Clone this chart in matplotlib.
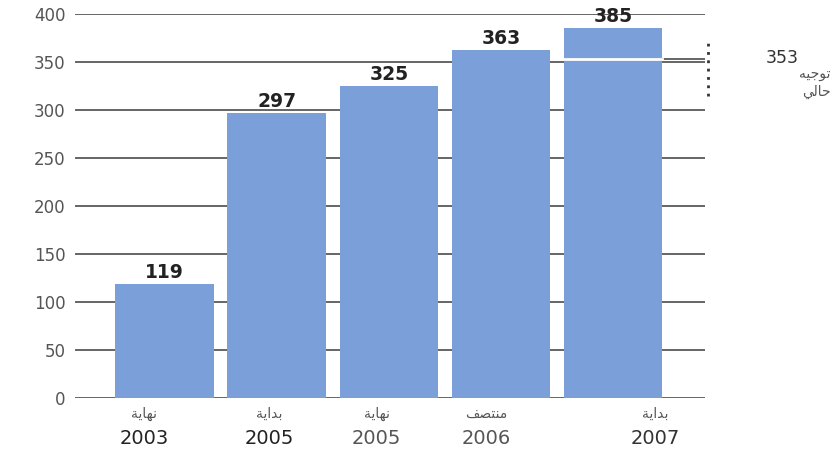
import matplotlib
matplotlib.use("Agg")
from matplotlib import pyplot as plt

# data
periods = ["نهاية", "بداية", "نهاية", "منتصف", "بداية"]
years = ["2003", "2005", "2005", "2006", "2007"]
values = [119, 297, 325, 363, 385]
current_value = 353
current_label = ["توجيه", "حالي"]
y_ticks = [0, 50, 100, 150, 200, 250, 300, 350, 400]

BAR_COLOR = "#7b9fd8"
GRID_COLOR = "#3c3c3c"

# arabic presentation forms: isolated, final, initial, medial
FORMS = {
    "ا": ("\uFE8D", "\uFE8E", None, None),
    "ب": ("\uFE8F", "\uFE90", "\uFE91", "\uFE92"),
    "ة": ("\uFE93", "\uFE94", None, None),
    "ت": ("\uFE95", "\uFE96", "\uFE97", "\uFE98"),
    "ج": ("\uFE9D", "\uFE9E", "\uFE9F", "\uFEA0"),
    "ح": ("\uFEA1", "\uFEA2", "\uFEA3", "\uFEA4"),
    "د": ("\uFEA9", "\uFEAA", None, None),
    "ر": ("\uFEAD", "\uFEAE", None, None),
    "ص": ("\uFEB9", "\uFEBA", "\uFEBB", "\uFEBC"),
    "ف": ("\uFED1", "\uFED2", "\uFED3", "\uFED4"),
    "ق": ("\uFED5", "\uFED6", "\uFED7", "\uFED8"),
    "ل": ("\uFEDD", "\uFEDE", "\uFEDF", "\uFEE0"),
    "م": ("\uFEE1", "\uFEE2", "\uFEE3", "\uFEE4"),
    "ن": ("\uFEE5", "\uFEE6", "\uFEE7", "\uFEE8"),
    "ه": ("\uFEE9", "\uFEEA", "\uFEEB", "\uFEEC"),
    "و": ("\uFEED", "\uFEEE", None, None),
    "ي": ("\uFEF1", "\uFEF2", "\uFEF3", "\uFEF4"),
}


def shape(word):
    """Very small arabic shaper, matplotlib has no bidi/joining support."""
    out = []
    for i, ch in enumerate(word):
        if ch not in FORMS:
            out.append(ch)
            continue
        prev = word[i - 1] if i > 0 else None
        nxt = word[i + 1] if i + 1 < len(word) else None
        join_prev = prev in FORMS and FORMS[prev][2] is not None
        join_next = nxt in FORMS and FORMS[ch][2] is not None
        iso, fin, ini, med = FORMS[ch]
        if join_prev and join_next:
            out.append(med)
        elif join_prev:
            out.append(fin)
        elif join_next:
            out.append(ini)
        else:
            out.append(iso)
    return "".join(out[::-1])


fig = plt.figure(figsize=(8.34, 4.5), dpi=100)
ax = fig.add_axes([0.0899, 0.1156, 0.7554, 0.8533])

x = list(range(len(values)))
ax.set_xlim(-0.80, 4.82)
ax.set_ylim(0, 400)

for t in y_ticks:
    ax.axhline(t, color=GRID_COLOR, lw=1.1, zorder=1)

ax.bar(x, values, width=0.88, color=BAR_COLOR, zorder=2)

for xi, v in zip(x, values):
    ax.text(xi, v + 2, str(v), ha="center", va="bottom", fontsize=13.5,
            fontweight="bold", color="#222222", zorder=3)

# current level marker on the last bar
last = x[-1]
ax.plot([last - 0.44, last + 0.44], [current_value, current_value],
        color="white", lw=2.0, zorder=3)
ax.plot([last + 0.44, 4.82], [current_value, current_value],
        color=GRID_COLOR, lw=1.1, zorder=1)
ax.plot([4.85, 4.85], [315, 372], color="#333333", lw=2,
        linestyle=(0, (1, 2)), clip_on=False)
ax.text(0.958, 0.872, str(current_value), transform=fig.transFigure,
        ha="right", va="center", fontsize=12.5, color="#333333")
ax.text(0.996, 0.835, shape(current_label[0]), transform=fig.transFigure,
        ha="right", va="center", fontsize=10, color="#555555")
ax.text(0.996, 0.795, shape(current_label[1]), transform=fig.transFigure,
        ha="right", va="center", fontsize=10, color="#555555")

# x labels (two rows)
ax.set_xticks([])
label_shift = [-0.18, -0.07, -0.11, -0.13, 0.38]
year_color = ["#222222", "#222222", "#555555", "#555555", "#333333"]
for xi, p, yr, dx, c in zip(x, periods, years, label_shift, year_color):
    ax.text(xi + dx, -9, shape(p), ha="center", va="top", fontsize=10,
            color="#555555", clip_on=False)
    ax.text(xi + dx, -32, yr, ha="center", va="top", fontsize=14,
            color=c, clip_on=False)

ax.set_yticks(y_ticks)
ax.tick_params(axis="y", length=0, pad=7, labelsize=12, labelcolor="#555555")
for s in ax.spines.values():
    s.set_visible(False)

fig.savefig("out.png", dpi=100)
